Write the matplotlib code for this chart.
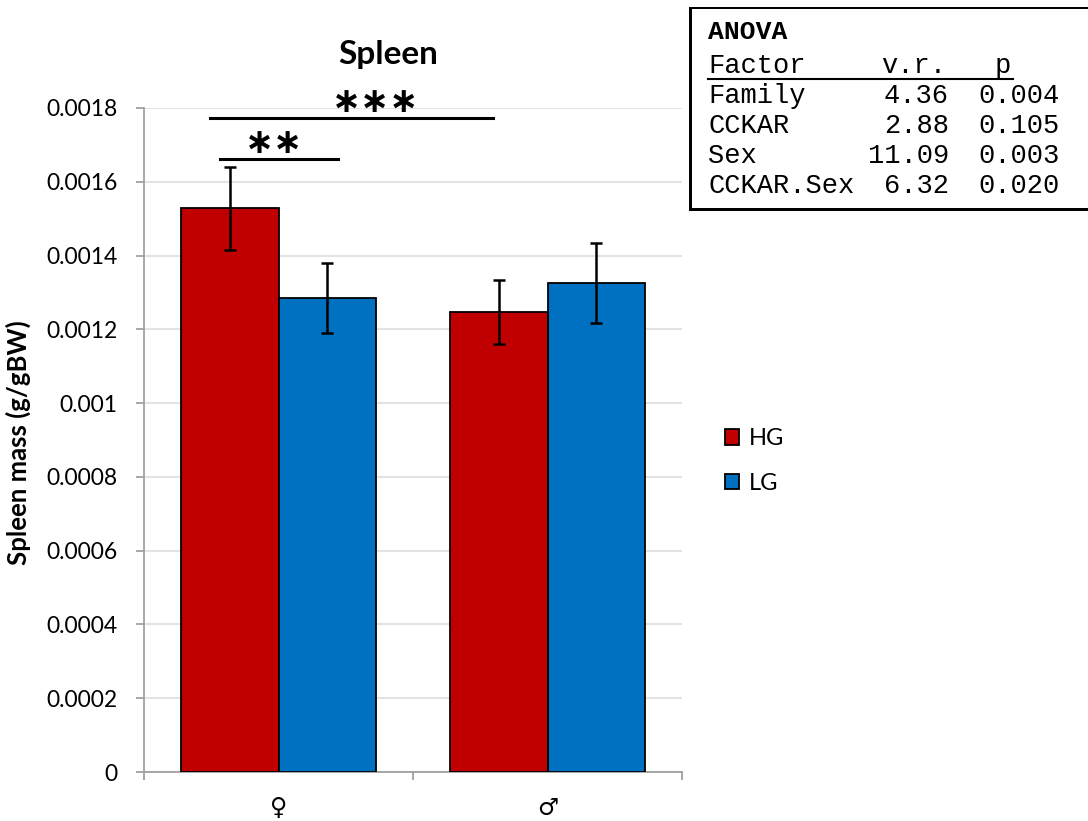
import numpy as np
import matplotlib.pyplot as plt
from matplotlib.lines import Line2D
from matplotlib.patches import Rectangle

# data
sexes = ['♀', '♂']
groups = ['HG', 'LG']
hg_mean = [0.001528, 0.001247]
hg_sem = [0.000112, 0.000087]
lg_mean = [0.001284, 0.001326]
lg_sem = [0.000095, 0.000108]

anova_factor = ['Family', 'CCKAR', 'Sex', 'CCKAR.Sex']
anova_vr = ['4.36', '2.88', '11.09', '6.32']
anova_p = ['0.004', '0.105', '0.003', '0.020']

W, H = 1088, 821
fig = plt.figure(figsize=(W / 100, H / 100), dpi=100)
ax = fig.add_axes([144 / W, 1 - 772 / H, 538 / W, 664 / H])

plt.rcParams['font.family'] = ['Lato', 'DejaVu Sans']

x = np.arange(len(sexes))
bw = 0.364
eb = dict(ecolor='black', elinewidth=1.8, capsize=4.5, capthick=1.8)
ax.bar(x - bw / 2, hg_mean, bw, yerr=hg_sem, color='#C00000', edgecolor='black',
       linewidth=1.3, label=groups[0], error_kw=eb, zorder=3)
ax.bar(x + bw / 2, lg_mean, bw, yerr=lg_sem, color='#0070C0', edgecolor='black',
       linewidth=1.3, label=groups[1], error_kw=eb, zorder=3)

ax.set_xlim(-0.5, 1.5)
ax.set_ylim(0, 0.0018)
ax.set_yticks(np.arange(0, 0.00181, 0.0002))
ax.set_yticklabels(['0', '0.0002', '0.0004', '0.0006', '0.0008', '0.001',
                    '0.0012', '0.0014', '0.0016', '0.0018'],
                   fontsize=16.5, family=['Lato', 'DejaVu Sans'])
ax.set_xticks([-0.5, 0.5, 1.5])
ax.set_xticklabels([])
ax.set_xticks(x, minor=True)
ax.set_xticklabels(sexes, minor=True, fontsize=17, family=['DejaVu Sans'])
ax.tick_params(axis='x', which='major', length=6, width=1.3, color='#a0a0a0')
ax.tick_params(axis='x', which='minor', length=0, pad=17)
ax.tick_params(axis='y', length=6, width=1.3, color='#a0a0a0', pad=13)
ax.yaxis.grid(True, color='#e3e3e3', linewidth=1.5, zorder=0)
ax.set_axisbelow(True)
for s in ['top', 'right']:
    ax.spines[s].set_visible(False)
for s in ['left', 'bottom']:
    ax.spines[s].set_color('#a0a0a0')
    ax.spines[s].set_linewidth(1.3)

# significance bars
ax.plot([-0.255, 0.797], [0.001774, 0.001774], color='black', lw=2.2, clip_on=False)
ax.plot([-0.217, 0.222], [0.001661, 0.001661], color='black', lw=2.2, clip_on=False)
ax.text(0.362, 0.00179, '∗∗∗', ha='center', va='baseline', fontsize=25,
        fontweight='bold', family=['DejaVu Sans'], clip_on=False)
ax.text(-0.017, 0.001677, '∗∗', ha='center', va='baseline', fontsize=25,
        fontweight='bold', family=['DejaVu Sans'], clip_on=False)

fig.text(388 / W, 1 - 64 / H, 'Spleen', ha='center', va='baseline',
         fontsize=24, fontweight='bold')
fig.text(18 / W, 1 - 443 / H, 'Spleen mass (g/gBW)', rotation=90, ha='center',
         va='center', fontsize=18.5, fontweight='bold')

leg = ax.legend(loc='center left', bbox_to_anchor=(713 / W, 1 - 461 / H),
                bbox_transform=fig.transFigure, frameon=False, fontsize=17,
                handlelength=0.62, handleheight=0.62, handletextpad=0.4,
                labelspacing=1.0, borderpad=0)

# ANOVA table box: filled strips for top, left and bottom; it runs off the right edge
for (x0, y0, w, h) in [(689, 7, 420, 2.5), (689, 7, 2.5, 204), (689, 208.5, 420, 2.5)]:
    fig.add_artist(Rectangle((x0 / W, 1 - (y0 + h) / H), w / W, h / H,
                             transform=fig.transFigure, facecolor='black',
                             edgecolor='none', linewidth=0))
mono = 'Liberation Mono'
fs = 19.5
fig.text(708 / W, 1 - 39 / H, 'ANOVA', family=mono, fontweight='bold', fontsize=19,
         va='baseline')
fig.text(708 / W, 1 - 73 / H, 'Factor', family=mono, fontsize=fs, va='baseline')
fig.text(946 / W, 1 - 73 / H, 'v.r.', family=mono, fontsize=fs, va='baseline', ha='right')
fig.text(1003 / W, 1 - 73 / H, 'p', family=mono, fontsize=fs, va='baseline', ha='center')
fig.add_artist(Line2D([708 / W, 1013 / W], [1 - 79 / H, 1 - 79 / H], color='black',
                      linewidth=1.5, transform=fig.transFigure))
for i in range(len(anova_factor)):
    yb = 1 - (103 + 30 * i) / H
    fig.text(708 / W, yb, anova_factor[i], family=mono, fontsize=fs, va='baseline')
    fig.text(949 / W, yb, anova_vr[i], family=mono, fontsize=fs, va='baseline', ha='right')
    fig.text(1060 / W, yb, anova_p[i], family=mono, fontsize=fs, va='baseline', ha='right')

fig.savefig('out.png', dpi=100)
